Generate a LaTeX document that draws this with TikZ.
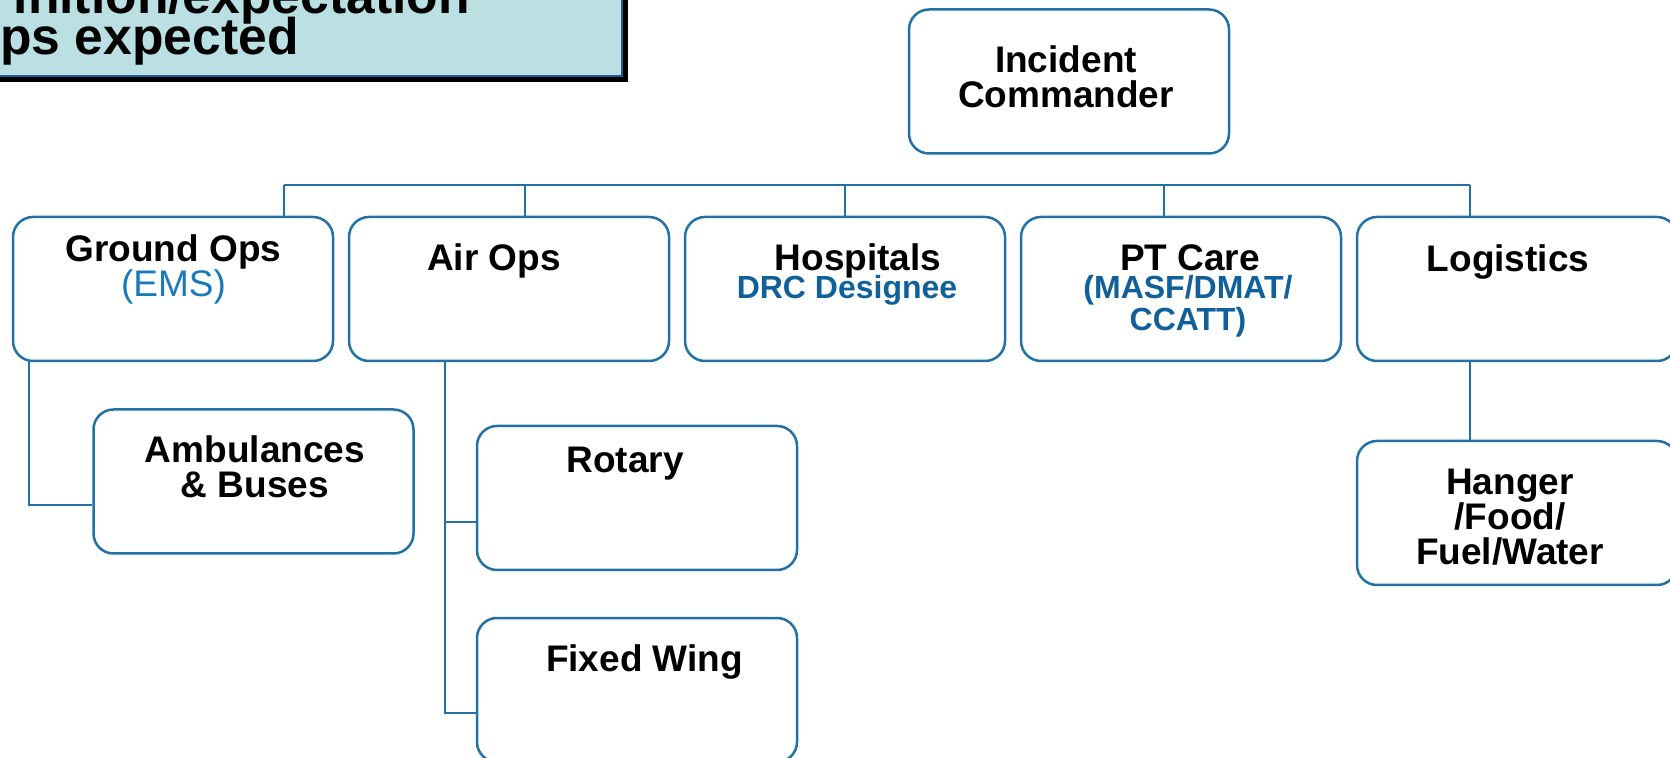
\documentclass[tikz,border=0pt]{standalone}
\usepackage{fontspec}
\setmainfont{Liberation Sans}
\usetikzlibrary{positioning}

\definecolor{orgline}{RGB}{33,113,165}
\definecolor{emsblue}{RGB}{26,122,184}
\definecolor{drcblue}{RGB}{17,96,153}
\definecolor{titlefill}{RGB}{186,224,227}
\definecolor{titleline}{RGB}{30,90,140}

\begin{document}
\begin{tikzpicture}[x=0.5pt,y=-0.5pt,
    unit/.style={draw=orgline,line width=1.25pt,rounded corners=10pt,
      minimum width=160pt,minimum height=72pt,inner sep=0pt},
    head/.style={anchor=base,align=center,inner sep=0pt,
      font=\bfseries\fontsize{18.5}{17.5}\selectfont},
    sub/.style={anchor=base,align=center,inner sep=0pt,text=drcblue,
      font=\bfseries\fontsize{16}{14}\selectfont},
    titletxt/.style={inner sep=0pt,font=\bfseries\fontsize{25.8}{25.8}\selectfont},
    link/.style={draw=orgline,line width=1.25pt}]

  \useasboundingbox (0,0) rectangle (1670,758);
  \clip (0,0) rectangle (1670,758);

  % title box, cut at the page edge
  \fill[black] (-20,-20) rectangle (628,82);
  \draw[fill=titlefill,draw=titleline,line width=1pt] (-20,-20) rectangle (622,76);
  \node[titletxt,anchor=base east] (ttl1) at (470,14) {inition/expectation};
  \node[titletxt,anchor=base west] (ttl2) at (0,55) {ps expected};

  % boxes
  \node[unit] (ic)   at (1069,81.5) {};
  \node[unit] (gops) at (173,289) {};
  \node[unit] (aops) at (509,289) {};
  \node[unit] (hosp) at (845,289) {};
  \node[unit] (ptc)  at (1181,289) {};
  \node[unit] (logi) at (1517,289) {};
  \node[unit] (amb)  at (253.5,481.5) {};
  \node[unit] (rot)  at (637,498) {};
  \node[unit] (fixw) at (637,690) {};
  \node[unit] (hang) at (1517,513) {};

  % texts (base = last line)
  \node[head] (ict) at (1066,108) {Incident\\Commander};
  \node[head] (gopst) at (173.5,296.7) {Ground Ops\\{\mdseries\color{emsblue}(EMS)}};
  \node[head] (aopst) at (494,271) {Air Ops};
  \node[head] (hospt) at (858,271) {Hospitals};
  \node[sub] (hosps) at (847,299) {DRC Designee};
  \node[head] (ptct) at (1190,271) {PT Care};
  \node[sub] (ptcs) at (1188,330.8) {(MASF/DMAT/\\CCATT)};
  \node[head] (logit) at (1508,271.7) {Logistics};
  \node[head] (ambt) at (255,497.7) {Ambulances\\\& Buses};
  \node[head] (rott) at (625,473) {Rotary};
  \node[head] (fixwt) at (644.5,671.7) {Fixed Wing};
  \node[head] (hangt) at (1510,565) {Hanger\\/Food/\\Fuel/Water};

  % connectors
  \coordinate (busL) at (284,185);
  \coordinate (busR) at (1470,185);
  \coordinate (arun) at (445,522);
  \draw[link] (busL) -- (busR);
  \draw[link] (busL) -- (gops.north -| busL);
  \draw[link] (aops.north -| 525,0) -- (525,0 |- busL);
  \draw[link] (hosp.north) -- (hosp.north |- busL);
  \draw[link] (ptc.north -| 1164,0) -- (1164,0 |- busL);
  \draw[link] (busR) -- (logi.north -| busR);
  \draw[link] (gops.south -| 29,0) |- (amb.west |- 0,505);
  \draw[link] (aops.south -| arun) |- (fixw.west |- 0,713);
  \draw[link] (arun) -- (rot.west |- arun);
  \draw[link] (logi.south -| busR) -- (hang.north -| busR);
\end{tikzpicture}
\end{document}
